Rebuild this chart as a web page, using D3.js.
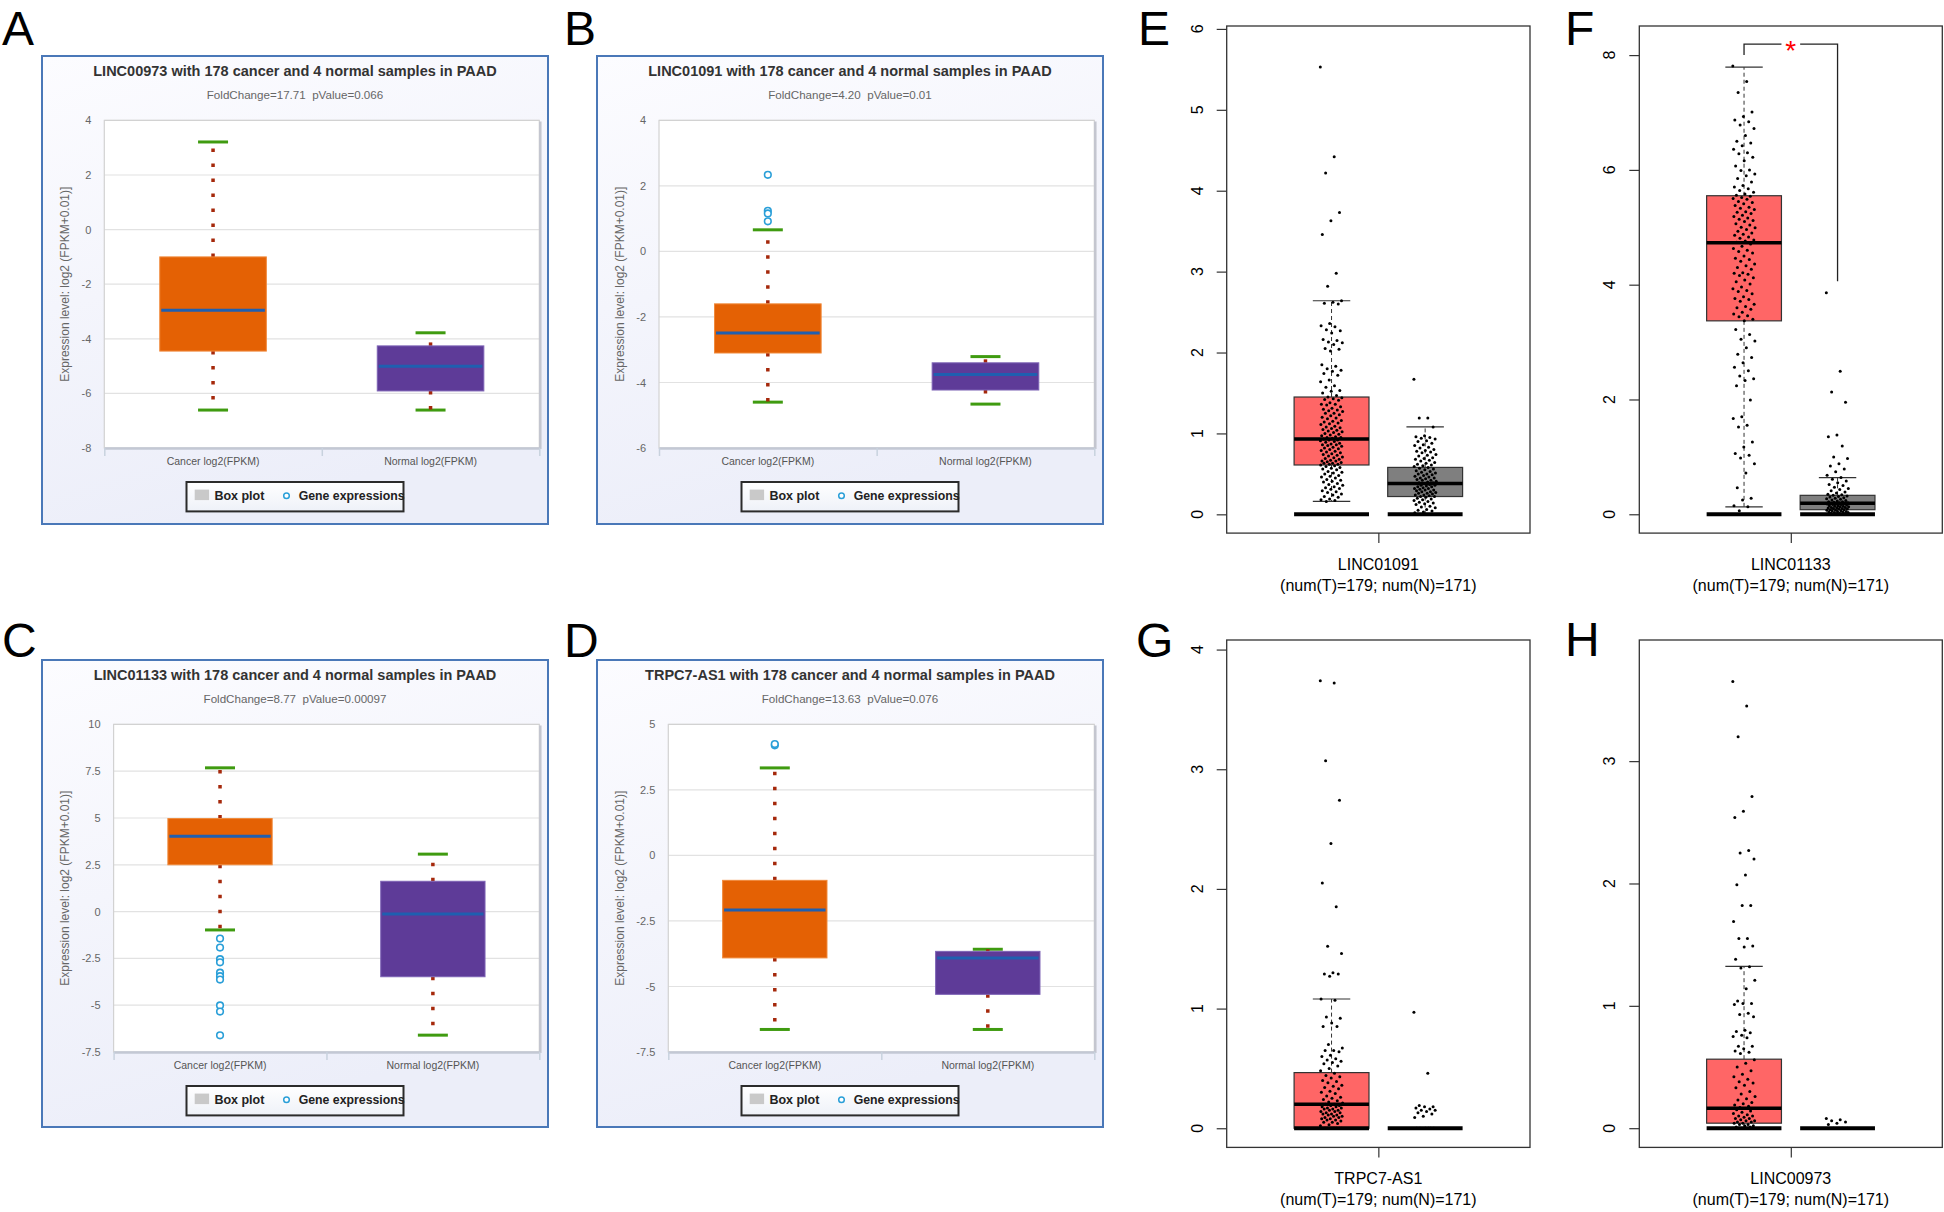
<!DOCTYPE html>
<html><head><meta charset="utf-8">
<script src="https://cdn.jsdelivr.net/npm/d3@7"></script>
<style>body{margin:0;background:#fff}svg{display:block}</style>
</head><body>
<svg id="fig" width="1944" height="1212"></svg>
<script>
// ================= DATA =================
const panelLetters = ["A","B","C","D","E","F","G","H"];

// Panels A-D (GEPIA-like web boxplots)
const adCategories = ["Cancer log2(FPKM)", "Normal log2(FPKM)"];
const adGenes = ["LINC00973", "LINC01091", "LINC01133", "TRPC7-AS1"];
const adFoldChange = ["17.71", "4.20", "8.77", "13.63"];
const adPValue = ["0.066", "0.01", "0.00097", "0.076"];
const adYTitle = "Expression level: log2 (FPKM+0.01)]";
const adLegend = ["Box plot", "Gene expressions"];
// box stats: [lower whisker, Q1, median, Q3, upper whisker]
const boxA_cancer = [-6.61, -4.45, -2.95, -1.0, 3.21];
const boxA_normal = [-6.61, -5.91, -5.01, -4.26, -3.78];
const outA_cancer = [];
const boxB_cancer = [-4.6, -3.1, -2.49, -1.6, 0.66];
const boxB_normal = [-4.66, -4.23, -3.76, -3.4, -3.21];
const outB_cancer = [2.34, 1.24, 1.16, 0.92];
const boxC_cancer = [-0.98, 2.5, 4.03, 4.97, 7.68];
const boxC_normal = [-6.6, -3.48, -0.13, 1.62, 3.07];
const outC_cancer = [-1.44, -1.92, -2.54, -2.71, -3.26, -3.45, -3.63, -5.01, -5.34, -6.61];
const boxD_cancer = [-6.64, -3.91, -2.08, -0.95, 3.34];
const boxD_normal = [-6.64, -5.3, -3.91, -3.66, -3.58];
const outD_cancer = [4.2, 4.25];
const ticksA = [-8, -6, -4, -2, 0, 2, 4];
const ticksB = [-6, -4, -2, 0, 2, 4];
const ticksC = [-7.5, -5, -2.5, 0, 2.5, 5, 7.5, 10];
const ticksD = [-7.5, -5, -2.5, 0, 2.5, 5];

// Panels E-H (GEPIA R boxplots, tumor vs normal)
const ehGenes = ["LINC01091", "LINC01133", "TRPC7-AS1", "LINC00973"];
const ehCounts = "(num(T)=179; num(N)=171)";
const boxE_tumor = [0.16, 0.61, 0.93, 1.45, 2.64];
const boxE_normal = [0, 0.22, 0.38, 0.58, 1.08];
const boxF_tumor = [0.13, 3.37, 4.73, 5.55, 7.79];
const boxF_normal = [0, 0.08, 0.19, 0.33, 0.64];
const boxG_tumor = [0, 0, 0.2, 0.465, 1.08];
const boxG_normal = [0, 0, 0, 0, 0];
const boxH_tumor = [0, 0.041, 0.163, 0.564, 1.323];
const boxH_normal = [0, 0, 0, 0, 0];
const ticksE = [0, 1, 2, 3, 4, 5, 6];
const ticksF = [0, 2, 4, 6, 8];
const ticksG = [0, 1, 2, 3, 4];
const ticksH = [0, 1, 2, 3];

const ptsE_tumor = [5.53,4.42,4.22,3.73,3.63,3.46,2.98,2.82,2.64,2.62,2.61,2.6,2.36,2.33,2.32,2.28,2.27,2.24,2.16,2.15,2.13,2.12,2.1,2.05,2.04,2.02,1.85,1.83,1.8,1.78,1.77,1.74,1.72,1.66,1.64,1.59,1.57,1.53,1.52,1.5,1.47,1.45,1.44,1.43,1.42,1.41,1.38,1.36,1.36,1.35,1.33,1.31,1.3,1.29,1.28,1.27,1.25,1.25,1.23,1.22,1.2,1.19,1.18,1.16,1.15,1.14,1.13,1.12,1.11,1.09,1.08,1.07,1.06,1.05,1.04,1.03,1.02,1.01,1.0,0.99,0.98,0.97,0.96,0.95,0.95,0.94,0.93,0.92,0.92,0.91,0.9,0.89,0.88,0.87,0.86,0.86,0.85,0.84,0.83,0.82,0.81,0.8,0.79,0.78,0.77,0.76,0.75,0.74,0.73,0.72,0.71,0.7,0.69,0.68,0.67,0.66,0.66,0.65,0.64,0.63,0.63,0.62,0.62,0.61,0.6,0.59,0.58,0.57,0.56,0.55,0.53,0.52,0.51,0.5,0.48,0.47,0.46,0.45,0.43,0.42,0.41,0.4,0.38,0.37,0.36,0.34,0.33,0.32,0.31,0.29,0.28,0.27,0.25,0.24,0.22,0.21,0.19,0.18,0.17,0.16];
const ptsE_normal = [1.67,1.19,1.19,1.08,0.97,0.96,0.95,0.94,0.93,0.91,0.9,0.88,0.86,0.85,0.83,0.82,0.8,0.79,0.78,0.77,0.76,0.74,0.73,0.72,0.7,0.69,0.68,0.67,0.66,0.64,0.63,0.62,0.61,0.6,0.59,0.58,0.57,0.56,0.55,0.54,0.53,0.52,0.51,0.5,0.5,0.49,0.48,0.47,0.46,0.45,0.45,0.44,0.43,0.42,0.42,0.41,0.4,0.39,0.39,0.38,0.38,0.37,0.36,0.36,0.35,0.34,0.34,0.33,0.32,0.32,0.31,0.3,0.3,0.29,0.28,0.28,0.27,0.26,0.26,0.25,0.24,0.24,0.23,0.22,0.22,0.21,0.2,0.19,0.18,0.17,0.16,0.15,0.14,0.13,0.12,0.1,0.09,0.08,0.06,0.05,0.04,0.03,0.02];
const ptsF_tumor = [7.81,7.54,7.35,7.01,6.93,6.87,6.84,6.78,6.72,6.6,6.5,6.47,6.42,6.36,6.3,6.28,6.22,6.16,6.07,6.0,5.99,5.93,5.9,5.85,5.79,5.73,5.7,5.67,5.64,5.61,5.58,5.56,5.54,5.52,5.5,5.49,5.45,5.43,5.41,5.38,5.35,5.33,5.31,5.27,5.26,5.24,5.21,5.19,5.16,5.14,5.12,5.1,5.06,5.04,5.0,4.99,4.96,4.93,4.9,4.88,4.86,4.83,4.81,4.78,4.76,4.74,4.71,4.67,4.63,4.6,4.58,4.55,4.5,4.46,4.44,4.41,4.36,4.33,4.3,4.27,4.21,4.2,4.18,4.16,4.12,4.08,4.05,4.01,3.96,3.93,3.9,3.88,3.84,3.79,3.76,3.74,3.71,3.66,3.62,3.6,3.57,3.52,3.49,3.46,3.44,3.4,3.37,3.22,3.13,3.05,3.02,2.9,2.79,2.73,2.64,2.56,2.5,2.41,2.36,2.33,2.24,1.99,1.7,1.67,1.55,1.52,1.26,1.17,1.06,1.03,0.98,0.88,0.72,0.46,0.28,0.25,0.15,0.13,0.06];
const ptsF_normal = [3.86,2.49,2.13,1.95,1.38,1.35,1.19,1.0,0.97,0.88,0.84,0.79,0.74,0.68,0.64,0.61,0.58,0.55,0.52,0.5,0.47,0.45,0.43,0.41,0.39,0.37,0.35,0.34,0.33,0.32,0.31,0.3,0.29,0.28,0.27,0.26,0.25,0.24,0.23,0.22,0.22,0.21,0.2,0.2,0.19,0.19,0.18,0.18,0.17,0.17,0.16,0.15,0.15,0.14,0.14,0.13,0.13,0.12,0.12,0.11,0.11,0.1,0.1,0.09,0.09,0.08,0.08,0.07,0.07,0.06,0.06,0.05,0.05,0.04,0.04,0.03,0.03,0.02,0.02,0.01,0.01];
const ptsG_tumor = [3.74,3.72,3.07,2.74,2.38,2.05,1.85,1.52,1.46,1.3,1.29,1.29,1.27,1.08,1.07,0.93,0.92,0.88,0.85,0.85,0.7,0.67,0.65,0.65,0.64,0.61,0.6,0.58,0.57,0.56,0.55,0.54,0.52,0.5,0.48,0.46,0.44,0.43,0.42,0.4,0.39,0.38,0.36,0.35,0.34,0.33,0.31,0.3,0.29,0.27,0.26,0.25,0.24,0.23,0.22,0.21,0.2,0.2,0.19,0.19,0.18,0.18,0.17,0.17,0.16,0.16,0.15,0.15,0.14,0.14,0.13,0.13,0.12,0.12,0.11,0.11,0.1,0.1,0.09,0.09,0.08,0.08,0.07,0.07,0.06,0.05,0.05,0.04,0.03,0.02,0,0,0,0,0,0,0,0,0,0];
const ptsG_normal = [0.97,0.46,0.19,0.18,0.18,0.17,0.16,0.15,0.15,0.14,0.13,0.12,0.1,0.09,0,0,0,0,0,0];
const ptsH_tumor = [3.65,3.45,3.2,2.71,2.59,2.54,2.27,2.25,2.2,2.07,1.99,1.82,1.82,1.69,1.55,1.55,1.49,1.48,1.38,1.32,1.31,1.21,1.14,1.04,1.02,1.02,1.01,0.94,0.93,0.91,0.8,0.79,0.78,0.76,0.75,0.74,0.67,0.67,0.65,0.63,0.62,0.61,0.56,0.53,0.5,0.47,0.44,0.42,0.4,0.38,0.37,0.35,0.33,0.3,0.28,0.26,0.24,0.23,0.21,0.2,0.19,0.18,0.17,0.16,0.16,0.15,0.14,0.13,0.12,0.11,0.1,0.1,0.09,0.08,0.08,0.07,0.06,0.06,0.05,0.05,0.04,0.04,0.03,0.03,0.02,0.02,0.01,0.01,0,0,0,0,0,0];
const ptsH_normal = [0.08,0.07,0.06,0.05,0.04,0.03,0,0,0,0];

// significance marker for panel F
const sigF = "*";

// ================= DRAWING =================
const FONT = "'Liberation Sans', Arial, Helvetica, sans-serif";
const svg = d3.select("#fig");
svg.append("rect").attr("width",1944).attr("height",1212).attr("fill","#fff");

const defs = svg.append("defs");
const gb = defs.append("linearGradient").attr("id","panelBg").attr("x1",0).attr("y1",0).attr("x2",0.3).attr("y2",1);
gb.append("stop").attr("offset","0%").attr("stop-color","#fcfcff");
gb.append("stop").attr("offset","100%").attr("stop-color","#eceef9");
const gl = defs.append("linearGradient").attr("id","legBg").attr("x1",0).attr("y1",0).attr("x2",0).attr("y2",1);
gl.append("stop").attr("offset","0%").attr("stop-color","#ffffff");
gl.append("stop").attr("offset","100%").attr("stop-color","#eef1f8");

function letter(t, x, y){
  svg.append("text").attr("x",x).attr("y",y).text(t)
    .style("font-family",FONT).style("font-size","48px").attr("fill","#000");
}

function drawAD(o){
  const g = svg.append("g");
  const fx=o.fx, fy=o.fy, fw=506, fh=o.fh;
  g.append("rect").attr("x",fx).attr("y",fy).attr("width",fw).attr("height",fh)
    .attr("fill","url(#panelBg)").attr("stroke","#4a78b8").attr("stroke-width",2);
  const pT=fy+64.4, pB=fy+392, pL=o.pl, pR=fx+497.3;
  const y = d3.scaleLinear().domain(o.ydom).range([pB,pT]);
  const xb = d3.scaleBand().domain(adCategories).range([pL,pR]);
  const xl = d3.scaleLinear().domain([0,2]).range([pL,pR]);
  g.append("rect").attr("x",pL).attr("y",pT).attr("width",pR-pL).attr("height",pB-pT).attr("fill","#fff");
  g.selectAll(".grid").data(o.ticks).join("line")
    .attr("x1",pL).attr("x2",pR).attr("y1",d=>y(d)).attr("y2",d=>y(d))
    .attr("stroke","#e2e2e2").attr("stroke-width",1.2);
  g.append("rect").attr("x",pL).attr("y",pT).attr("width",pR-pL).attr("height",pB-pT)
    .attr("fill","none").attr("stroke","#d2d2d2").attr("stroke-width",1.2);
  g.append("line").attr("x1",pR+1).attr("x2",pR+1).attr("y1",pT+1).attr("y2",pB+1).attr("stroke","#c4c6cf").attr("stroke-width",2.5);
  // y axis labels
  const ya = g.append("g").attr("transform",`translate(${pL},0)`)
    .call(d3.axisLeft(y).tickValues(o.ticks).tickSize(0).tickPadding(13).tickFormat(d=>String(d)));
  ya.select(".domain").remove();
  ya.selectAll("text").attr("fill","#666").style("font-size","11px").style("font-family",FONT);
  // x axis
  const xa = g.append("g").attr("transform",`translate(0,${pB})`)
    .call(d3.axisBottom(xl).tickValues([0,1,2]).tickSize(8).tickSizeOuter(0).tickFormat(""));
  xa.select(".domain").attr("stroke","#c3c8d4").attr("stroke-width",2.5);
  xa.selectAll(".tick line").attr("stroke","#c8d2de").attr("stroke-width",1.5);
  g.selectAll(".cat").data(adCategories).join("text")
    .attr("x",d=>xb(d)+xb.bandwidth()/2).attr("y",fy+405.3).attr("dominant-baseline","central")
    .attr("text-anchor","middle").attr("fill","#555").style("font-family",FONT).style("font-size","10.5px").text(d=>d);
  // y title
  g.append("text").attr("transform",`translate(${fx+23.3},${(pT+pB)/2}) rotate(-90)`)
    .attr("text-anchor","middle").attr("dominant-baseline","central").attr("fill","#666")
    .style("font-family",FONT).style("font-size","12px").text(adYTitle);
  // title & subtitle
  g.append("text").attr("x",fx+fw/2).attr("y",fy+15.2).attr("text-anchor","middle").attr("dominant-baseline","central")
    .attr("fill","#333").style("font-family",FONT).style("font-weight","bold").style("font-size","14.5px")
    .text(`${o.gene} with 178 cancer and 4 normal samples in PAAD`);
  g.append("text").attr("x",fx+fw/2).attr("y",fy+38.8).attr("text-anchor","middle").attr("dominant-baseline","central")
    .attr("fill","#666").style("font-family",FONT).style("font-size","11.6px").attr("xml:space","preserve")
    .text(`FoldChange=${o.fc}  pValue=${o.p}`);
  // boxes
  const groups = [
    {cat:adCategories[0], box:o.cancer, fill:"#e46104", stroke:"#f08a3c"},
    {cat:adCategories[1], box:o.normal, fill:"#5e3b98", stroke:"#7d63b5"}
  ];
  const bw = xb.bandwidth()*0.49, capW = 30;
  groups.forEach(gr=>{
    const cx = xb(gr.cat)+xb.bandwidth()/2;
    const [lo,q1,med,q3,hi] = gr.box;
    [lo,hi].forEach(v=>{
      g.append("line").attr("x1",cx-capW/2).attr("x2",cx+capW/2).attr("y1",y(v)).attr("y2",y(v))
        .attr("stroke","#3f9b10").attr("stroke-width",3);
    });
    g.append("line").attr("x1",cx).attr("x2",cx).attr("y1",y(q3)).attr("y2",y(hi))
      .attr("stroke","#a5280b").attr("stroke-width",3.5).attr("stroke-dasharray","3.5,11.5");
    g.append("line").attr("x1",cx).attr("x2",cx).attr("y1",y(q1)).attr("y2",y(lo))
      .attr("stroke","#a5280b").attr("stroke-width",3.5).attr("stroke-dasharray","3.5,11.5");
    g.append("rect").attr("x",cx-bw/2).attr("y",y(q3)).attr("width",bw).attr("height",y(q1)-y(q3))
      .attr("fill",gr.fill).attr("stroke",gr.stroke).attr("stroke-width",1);
    g.append("line").attr("x1",cx-bw/2+1.5).attr("x2",cx+bw/2-1.5).attr("y1",y(med)).attr("y2",y(med))
      .attr("stroke","#1f5fb0").attr("stroke-width",3);
  });
  const cx0 = xb(adCategories[0])+xb.bandwidth()/2;
  g.selectAll(".out").data(o.out).join("circle").attr("cx",cx0).attr("cy",d=>y(d)).attr("r",3.3)
    .attr("fill","#fff").attr("stroke","#2a9fd8").attr("stroke-width",1.6);
  // legend
  const lx = fx+fw/2-108.5, ly = fy+426;
  g.append("rect").attr("x",lx).attr("y",ly).attr("width",217).attr("height",29.4)
    .attr("fill","url(#legBg)").attr("stroke","#2b2b2b").attr("stroke-width",2);
  g.append("rect").attr("x",lx+8.2).attr("y",ly+7.6).attr("width",14.4).attr("height",10.5).attr("fill","#c9c9c9");
  g.append("text").attr("x",lx+27.9).attr("y",ly+13.6).attr("dominant-baseline","central").attr("fill","#222")
    .style("font-family",FONT).style("font-weight","bold").style("font-size","12.5px").text(adLegend[0]);
  g.append("circle").attr("cx",lx+100).attr("cy",ly+13.8).attr("r",2.8).attr("fill","#fff").attr("stroke","#2a9fd8").attr("stroke-width",1.5);
  g.append("text").attr("x",lx+112.2).attr("y",ly+13.6).attr("dominant-baseline","central").attr("fill","#222")
    .style("font-family",FONT).style("font-weight","bold").style("font-size","12.3px").text(adLegend[1]);
}

drawAD({fx:42, fy:56, fh:468, pl:104.3, ydom:[-8,4], ticks:ticksA, cancer:boxA_cancer, normal:boxA_normal, out:outA_cancer, gene:adGenes[0], fc:adFoldChange[0], p:adPValue[0]});
drawAD({fx:597, fy:56, fh:468, pl:659, ydom:[-6,4], ticks:ticksB, cancer:boxB_cancer, normal:boxB_normal, out:outB_cancer, gene:adGenes[1], fc:adFoldChange[1], p:adPValue[1]});
drawAD({fx:42, fy:660, fh:467, pl:113.6, ydom:[-7.5,10], ticks:ticksC, cancer:boxC_cancer, normal:boxC_normal, out:outC_cancer, gene:adGenes[2], fc:adFoldChange[2], p:adPValue[2]});
drawAD({fx:597, fy:660, fh:467, pl:668.3, ydom:[-7.5,5], ticks:ticksD, cancer:boxD_cancer, normal:boxD_normal, out:outD_cancer, gene:adGenes[3], fc:adFoldChange[3], p:adPValue[3]});

function drawR(o){
  const g = svg.append("g");
  const x = d3.scaleLinear().domain([-1.12,2.12]).range([o.x0,o.x1]);
  const y = d3.scaleLinear().domain(o.ydom).range([o.y1,o.y0]);
  const groups = [
    {pos:0, box:o.boxT, pts:o.ptsT, fill:"#ff6666"},
    {pos:1, box:o.boxN, pts:o.ptsN, fill:"#7f7f7f"}
  ];
  const hb = 0.4, hc = 0.2;
  groups.forEach(gr=>{
    const [lo,q1,med,q3,hi] = gr.box;
    const seg = (a,b)=>{
      if (b===a) return;
      g.append("line").attr("x1",x(gr.pos)).attr("x2",x(gr.pos)).attr("y1",y(a)).attr("y2",y(b))
        .attr("stroke","#333").attr("stroke-width",1).attr("stroke-dasharray","4,3");
      g.append("line").attr("x1",x(gr.pos-hc)).attr("x2",x(gr.pos+hc)).attr("y1",y(b)).attr("y2",y(b))
        .attr("stroke","#333").attr("stroke-width",1.2);
    };
    seg(q3,hi); seg(q1,lo);
    if (q3>q1){
      g.append("rect").attr("x",x(gr.pos-hb)).attr("y",y(q3)).attr("width",x(gr.pos+hb)-x(gr.pos-hb))
        .attr("height",y(q1)-y(q3)).attr("fill",gr.fill).attr("stroke","#333").attr("stroke-width",1.2);
      g.append("line").attr("x1",x(gr.pos-hb)).attr("x2",x(gr.pos+hb)).attr("y1",y(med)).attr("y2",y(med))
        .attr("stroke","#000").attr("stroke-width",3.5);
    }
    g.append("line").attr("x1",x(gr.pos-hb)).attr("x2",x(gr.pos+hb)).attr("y1",y(0)).attr("y2",y(0))
      .attr("stroke","#000").attr("stroke-width",4);
  });
  groups.forEach(gr=>{
    g.selectAll(null).data(gr.pts).join("circle")
      .attr("cx",(d,i)=>x(gr.pos + (((i*0.6180339887)%1)-0.5)*0.24))
      .attr("cy",d=>y(d)).attr("r",1.5).attr("fill","#000");
  });
  g.append("rect").attr("x",o.x0).attr("y",o.y0).attr("width",o.x1-o.x0).attr("height",o.y1-o.y0)
    .attr("fill","none").attr("stroke","#333").attr("stroke-width",1.3);
  const ya = g.append("g").attr("transform",`translate(${o.x0},0)`)
    .call(d3.axisLeft(y).tickValues(o.ticks).tickSize(10).tickFormat(""));
  ya.select(".domain").remove();
  ya.selectAll(".tick line").attr("stroke","#333").attr("stroke-width",1.2);
  g.selectAll(".yl").data(o.ticks).join("text")
    .attr("transform",d=>`translate(${o.x0-29.7},${y(d)}) rotate(-90)`)
    .attr("text-anchor","middle").attr("dominant-baseline","central").attr("fill","#000")
    .style("font-family",FONT).style("font-size","16px").text(d=>String(d));
  const xa = g.append("g").attr("transform",`translate(0,${o.y1})`)
    .call(d3.axisBottom(x).tickValues([0.5]).tickSize(10).tickFormat(""));
  xa.select(".domain").remove();
  xa.selectAll(".tick line").attr("stroke","#333").attr("stroke-width",1.2);
  g.append("text").attr("x",x(0.5)).attr("y",o.y1+31).attr("text-anchor","middle").attr("dominant-baseline","central")
    .style("font-family",FONT).style("font-size","16px").attr("fill","#000").text(o.gene);
  g.append("text").attr("x",x(0.5)).attr("y",o.y1+52.3).attr("text-anchor","middle").attr("dominant-baseline","central")
    .style("font-family",FONT).style("font-size","16px").attr("fill","#000").text(ehCounts);
  if (o.sig){
    const yb = y(o.sig.bar);
    g.append("path").attr("fill","none").attr("stroke","#222").attr("stroke-width",1.3)
      .attr("d",`M${x(0)},${y(o.sig.left)}V${yb}H${x(0.4)}`);
    g.append("path").attr("fill","none").attr("stroke","#222").attr("stroke-width",1.3)
      .attr("d",`M${x(0.6)},${yb}H${x(1)}V${y(o.sig.right)}`);
    g.append("text").attr("x",x(0.5)).attr("y",yb+16).attr("text-anchor","middle").attr("fill","#ff0000")
      .style("font-family",FONT).style("font-size","28px").text(o.sig.label);
  }
}

drawR({x0:1226.7, x1:1530, y0:26, y1:533.1, ydom:[-0.232,6.036], ticks:ticksE, boxT:boxE_tumor, boxN:boxE_normal, ptsT:ptsE_tumor, ptsN:ptsE_normal, gene:ehGenes[0]});
drawR({x0:1639.3, x1:1942.3, y0:26, y1:533.1, ydom:[-0.328,8.507], ticks:ticksF, boxT:boxF_tumor, boxN:boxF_normal, ptsT:ptsF_tumor, ptsN:ptsF_normal, gene:ehGenes[1], sig:{bar:8.19,left:8.0,right:4.06,label:sigF}});
drawR({x0:1226.7, x1:1530, y0:640, y1:1147.4, ydom:[-0.16,4.08], ticks:ticksG, boxT:boxG_tumor, boxN:boxG_normal, ptsT:ptsG_tumor, ptsN:ptsG_normal, gene:ehGenes[2]});
drawR({x0:1639.3, x1:1942.3, y0:640, y1:1147.4, ydom:[-0.157,3.99], ticks:ticksH, boxT:boxH_tumor, boxN:boxH_normal, ptsT:ptsH_tumor, ptsN:ptsH_normal, gene:ehGenes[3]});

letter(panelLetters[0], 2, 45);
letter(panelLetters[1], 564, 45);
letter(panelLetters[2], 2, 657);
letter(panelLetters[3], 564, 657);
letter(panelLetters[4], 1138, 45);
letter(panelLetters[5], 1565, 45);
letter(panelLetters[6], 1136, 657);
letter(panelLetters[7], 1565, 656);
</script>
</body></html>
